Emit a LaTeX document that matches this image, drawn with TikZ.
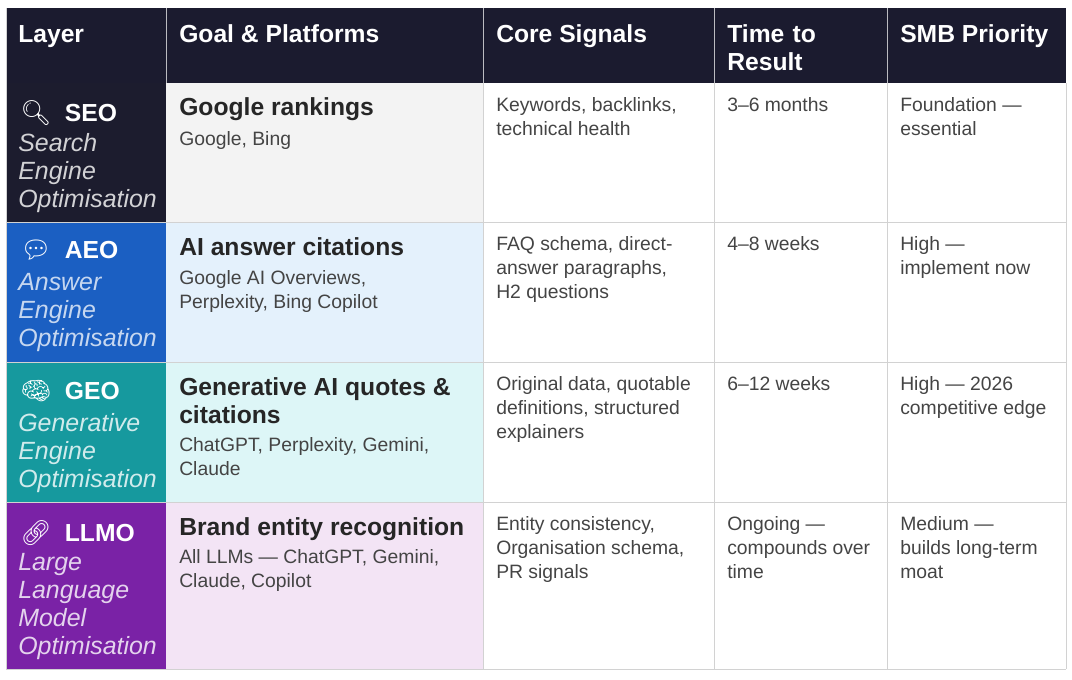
\documentclass[tikz,border=0pt]{standalone}
\usepackage{fontspec}
\setmainfont{Liberation Sans}
\newfontfamily\emojifont{Noto Emoji}
\usepackage{tikz}

\definecolor{navy}{HTML}{1B1B2F}
\definecolor{seoc}{HTML}{1C1C2E}
\definecolor{aeoc}{HTML}{1B5FC2}
\definecolor{geoc}{HTML}{16999E}
\definecolor{llmoc}{HTML}{7A22A6}
\definecolor{seobg}{HTML}{F3F3F3}
\definecolor{aeobg}{HTML}{E4F1FC}
\definecolor{geobg}{HTML}{DDF6F7}
\definecolor{llmobg}{HTML}{F3E4F5}
\definecolor{gridc}{HTML}{D2D2D2}
\definecolor{textc}{HTML}{444444}

\tikzset{
  hdr/.style={anchor=north west,align=left,text=white,font=\fontsize{18.5}{21}\selectfont\bfseries,inner sep=0pt},
  cell/.style={anchor=north west,align=left,text=textc,font=\fontsize{14.5}{18}\selectfont,inner sep=0pt},
  goal/.style={anchor=north west,align=left,text=black!85,font=\fontsize{18.5}{21}\selectfont\bfseries,inner sep=0pt},
  plat/.style={anchor=north west,align=left,text=textc,font=\fontsize{14.5}{18}\selectfont,inner sep=0pt},
  tag/.style={anchor=north west,align=left,text=white,font=\fontsize{18.5}{21}\selectfont\bfseries,inner sep=0pt},
  full/.style={anchor=north west,align=left,font=\fontsize{18.7}{21}\selectfont\itshape,inner sep=0pt},
}

\begin{document}
\begin{tikzpicture}[x=0.75pt,y=-0.75pt]
\useasboundingbox (0,0) rectangle (1072,680);

% header
\fill[navy] (6,8) rectangle (1066,83);
\foreach \cx in {166,483,714,887}
  \draw[white!70!navy,line width=0.4pt] (\cx,8) -- (\cx,83);
\node[hdr] (hlayer) at (18,24) {Layer\vphantom{l}};
\node[hdr] (hgoal) at (179,24) {Goal \& Platforms};
\node[hdr] (hsig) at (496,24) {Core Signals};
\node[hdr,text width=140] (htime) at (727,24) {Time to\\Result};
\node[hdr] (hprio) at (900,24) {SMB Priority};

% rows
\fill[seoc] (6,83) rectangle (166,222);   \fill[seobg] (166,83) rectangle (483,222);
\fill[aeoc] (6,222) rectangle (166,362);  \fill[aeobg] (166,222) rectangle (483,362);
\fill[geoc] (6,362) rectangle (166,502);  \fill[geobg] (166,362) rectangle (483,502);
\fill[llmoc] (6,502) rectangle (166,669); \fill[llmobg] (166,502) rectangle (483,669);

% grid
\foreach \ry in {222,362,502,669}
  \draw[gridc] (6,\ry) -- (1066,\ry);
\foreach \cx in {483,714,887,1066}
  \draw[gridc] (\cx,83) -- (\cx,669);
\draw[gridc] (6,8) -- (6,669);

% SEO
\node[tag] (seo) at (20,100) {{\emojifont 🔍}\hspace{10pt}SEO};
\node[full,text=white!80!seoc] (seofull) at (18,133) {Search\\Engine\\Optimisation};
\node[goal] (seogoal) at (179,97) {Google rankings};
\node[plat] (seoplat) at (179,131) {Google, Bing};
\node[cell] (seosig) at (496,97) {Keywords, backlinks,\\technical health};
\node[cell] (seotime) at (727,97) {3–6 months};
\node[cell] (seoprio) at (900,97) {Foundation —\\essential};

% AEO
\node[tag] (aeo) at (20,240) {{\emojifont 💬}\hspace{10pt}AEO};
\node[full,text=aeoc!25!white] (aeofull) at (18,273) {Answer\\Engine\\Optimisation};
\node[goal] (aeogoal) at (179,237) {AI answer citations};
\node[plat] (aeoplat) at (179,270) {Google AI Overviews,\\Perplexity, Bing Copilot};
\node[cell] (aeosig) at (496,236) {FAQ schema, direct-\\answer paragraphs,\\H2 questions};
\node[cell] (aeotime) at (727,236) {4–8 weeks};
\node[cell] (aeoprio) at (900,236) {High —\\implement now};

% GEO
\node[tag] (geo) at (20,380) {{\emojifont 🧠}\hspace{10pt}GEO};
\node[full,text=geoc!20!white] (geofull) at (18,413) {Generative\\Engine\\Optimisation};
\node[goal] (geogoal) at (179,377) {Generative AI quotes \&\\citations};
\node[plat] (geoplat) at (179,437) {ChatGPT, Perplexity, Gemini,\\Claude};
\node[cell] (geosig) at (496,376) {Original data, quotable\\definitions, structured\\explainers};
\node[cell] (geotime) at (727,376) {6–12 weeks};
\node[cell] (geoprio) at (900,376) {High — 2026\\competitive edge};

% LLMO
\node[tag] (llmo) at (20,520) {{\emojifont 🔗}\hspace{10pt}LLMO};
\node[full,text=llmoc!20!white] (llmofull) at (18,553) {Large\\Language\\Model\\Optimisation};
\node[goal] (llmogoal) at (179,517) {Brand entity recognition};
\node[plat] (llmoplat) at (179,549) {All LLMs — ChatGPT, Gemini,\\Claude, Copilot};
\node[cell] (llmosig) at (496,516) {Entity consistency,\\Organisation schema,\\PR signals};
\node[cell] (llmotime) at (727,516) {Ongoing —\\compounds over\\time};
\node[cell] (llmoprio) at (900,516) {Medium —\\builds long-term\\moat};
\end{tikzpicture}
\end{document}
